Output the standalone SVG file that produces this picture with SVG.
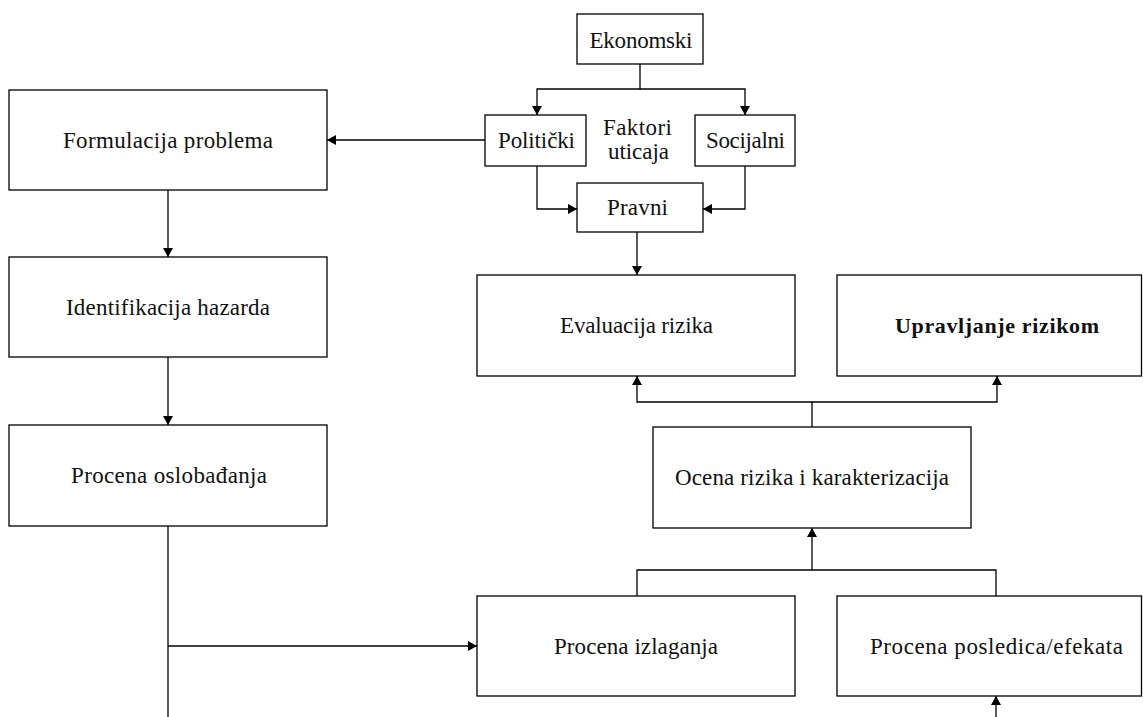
<svg xmlns="http://www.w3.org/2000/svg" width="1143" height="717" viewBox="0 0 1143 717">
  <style>
    .box { fill: #ffffff; stroke: #000000; stroke-width: 1.3; }
    .lbl { font-family: "Liberation Serif", "Times New Roman", serif; font-size: 23px; fill: #111111; text-anchor: middle; }
    .bold { font-weight: bold; font-size: 22px; }
    .wire { fill: none; stroke: #000000; stroke-width: 1.3; }
    .arr { marker-end: url(#head); }
  </style>
  <defs>
    <marker id="head" viewBox="0 0 9 10" refX="9" refY="5" markerWidth="9" markerHeight="10" markerUnits="userSpaceOnUse" orient="auto">
      <path d="M0,0 L9,5 L0,10 z" fill="#000000"/>
    </marker>
  </defs>

  <g id="connectors">
    <!-- influence factors -->
    <path class="wire arr" d="M640,64 V89 H537 V115"/>
    <path class="wire arr" d="M640,89 H745 V115"/>
    <path class="wire arr" d="M485,140 H327"/>
    <path class="wire arr" d="M537,166 V209 H577"/>
    <path class="wire arr" d="M745,166 V209 H703"/>
    <path class="wire arr" d="M637,232 V275"/>
    <!-- left column -->
    <path class="wire arr" d="M168,190 V257"/>
    <path class="wire arr" d="M168,357 V425"/>
    <path class="wire" d="M168,526 V717"/>
    <path class="wire arr" d="M168,646 H477"/>
    <!-- assessment merge -->
    <path class="wire" d="M637,596 V570 H996 V596"/>
    <path class="wire arr" d="M812,570 V528"/>
    <path class="wire arr" d="M812,427 V402 H637 V376"/>
    <path class="wire arr" d="M812,402 H997 V376"/>
    <path class="wire arr" d="M996,717 V696"/>
  </g>

  <g id="ekonomski">
    <rect class="box" x="577" y="14" width="126" height="50"/>
    <text class="lbl" x="641" y="48" textLength="103" lengthAdjust="spacing">Ekonomski</text>
  </g>
  <g id="politicki">
    <rect class="box" x="485" y="115" width="101" height="51"/>
    <text class="lbl" x="536.5" y="148" textLength="77" lengthAdjust="spacing">Politički</text>
  </g>
  <g id="faktori-uticaja">
    <text class="lbl" x="637.5" y="135" textLength="69" lengthAdjust="spacing">Faktori</text>
    <text class="lbl" x="638.5" y="159" textLength="61" lengthAdjust="spacing">uticaja</text>
  </g>
  <g id="socijalni">
    <rect class="box" x="695" y="115" width="100" height="51"/>
    <text class="lbl" x="745.5" y="148" textLength="79" lengthAdjust="spacing">Socijalni</text>
  </g>
  <g id="pravni">
    <rect class="box" x="577" y="183" width="126" height="49"/>
    <text class="lbl" x="637.5" y="215" textLength="61" lengthAdjust="spacing">Pravni</text>
  </g>

  <g id="formulacija-problema">
    <rect class="box" x="9" y="90" width="318" height="100"/>
    <text class="lbl" x="168" y="148" textLength="210" lengthAdjust="spacing">Formulacija problema</text>
  </g>
  <g id="identifikacija-hazarda">
    <rect class="box" x="9" y="257" width="318" height="100"/>
    <text class="lbl" x="168" y="315" textLength="204" lengthAdjust="spacing">Identifikacija hazarda</text>
  </g>
  <g id="procena-oslobadjanja">
    <rect class="box" x="9" y="425" width="318" height="101"/>
    <text class="lbl" x="169" y="483" textLength="196" lengthAdjust="spacing">Procena oslobađanja</text>
  </g>

  <g id="evaluacija-rizika">
    <rect class="box" x="477" y="275" width="318" height="101"/>
    <text class="lbl" x="636.5" y="333" textLength="153" lengthAdjust="spacing">Evaluacija rizika</text>
  </g>
  <g id="upravljanje-rizikom">
    <rect class="box" x="837" y="275" width="304.5" height="101"/>
    <text class="lbl bold" x="997" y="333" textLength="204" lengthAdjust="spacing">Upravljanje rizikom</text>
  </g>
  <g id="ocena-rizika">
    <rect class="box" x="653" y="427" width="318" height="101"/>
    <text class="lbl" x="812" y="485" textLength="274" lengthAdjust="spacing">Ocena rizika i karakterizacija</text>
  </g>
  <g id="procena-izlaganja">
    <rect class="box" x="477" y="596" width="318" height="100"/>
    <text class="lbl" x="636" y="654" textLength="164" lengthAdjust="spacing">Procena izlaganja</text>
  </g>
  <g id="procena-posledica">
    <rect class="box" x="837" y="596" width="304.5" height="100"/>
    <text class="lbl" x="996.5" y="654" textLength="253" lengthAdjust="spacing">Procena posledica/efekata</text>
  </g>
</svg>
